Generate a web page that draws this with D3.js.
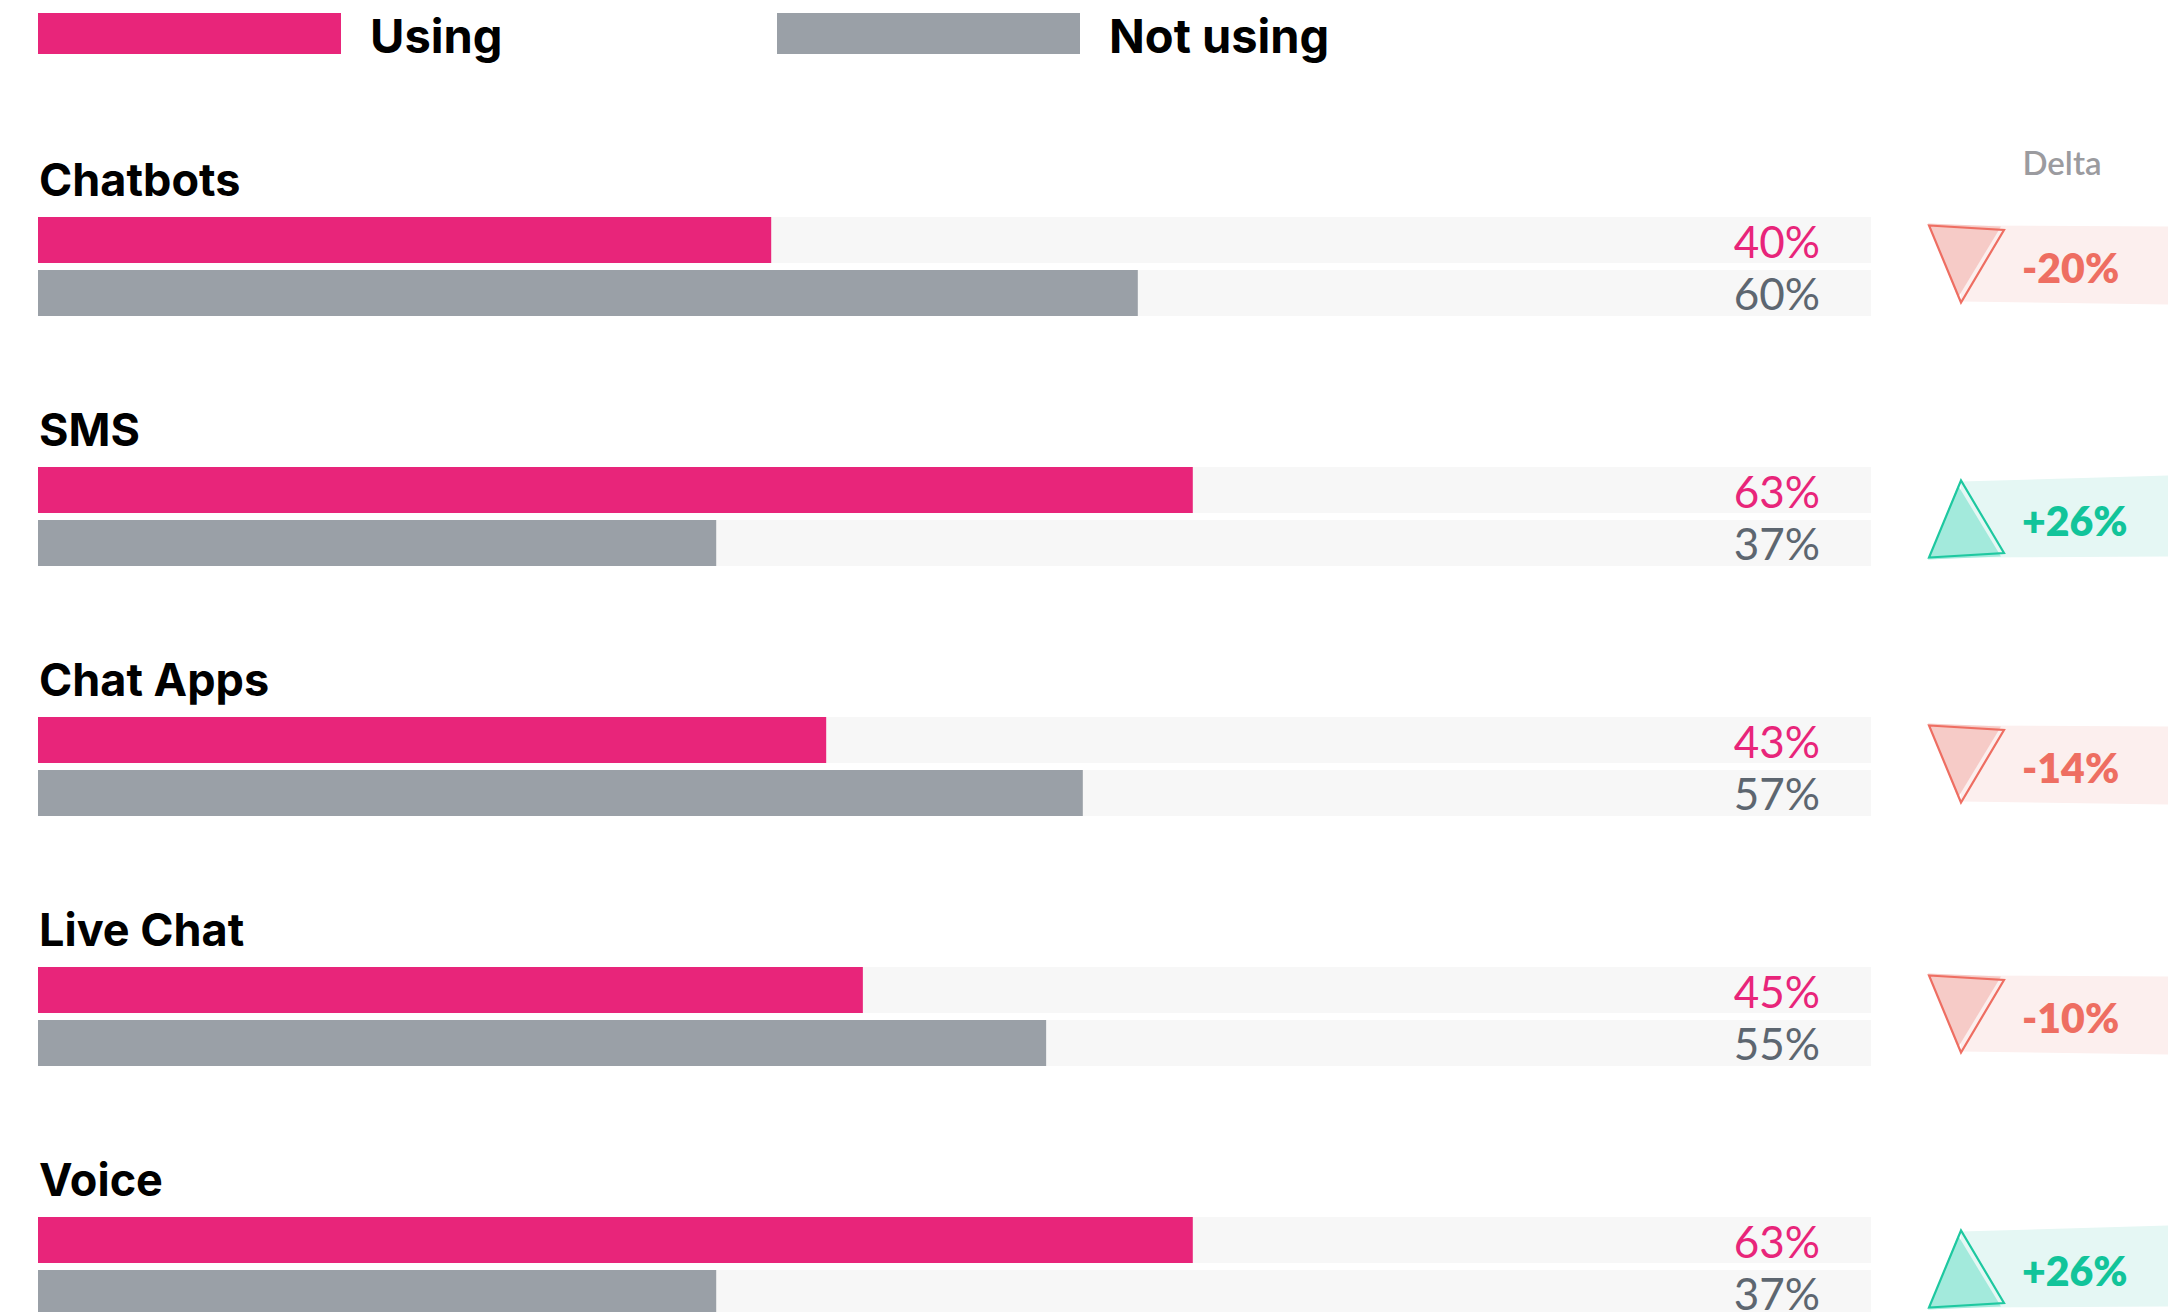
<!DOCTYPE html>
<html>
<head>
<meta charset="utf-8">
<script src="https://cdn.jsdelivr.net/npm/d3@7"></script>
<style>
    body { margin: 0; background: #fff; }
    text { font-family: "Lato", "Noto Sans", sans-serif; }
    .bold-label { font-family: "Inter", "Lato", sans-serif; }
</style>
</head>
<body>
<div id="chart"></div>
<script>
// chart data
const categories = ["Chatbots", "SMS", "Chat Apps", "Live Chat", "Voice"];
const usingValues = [40, 63, 43, 45, 63];
const notUsingValues = [60, 37, 57, 55, 37];
const deltaValues = [-20, 26, -14, -10, 26];
const legendLabels = ["Using", "Not using"];

const colors = {
    using: "#e8257a",
    notUsing: "#9aa0a7",
    track: "#f7f7f7",
    usingText: "#e8257a",
    notUsingText: "#5d6670",
    down: {band: "#fcefee", fill: "#f6cbc7", stroke: "#ee6e62", text: "#ee6e62"},
    up: {band: "#e5f7f4", fill: "#a3eadc", stroke: "#1ec8a0", text: "#12c49a"}
};

const width = 2168, height = 1312;

const svg = d3.select("#chart").append("svg")
    .attr("width", width)
    .attr("height", height);

let x = d3.scaleLinear()
    .domain([0, 100])
    .range([38, 1871]);

// top of the "using" bar for each row
let y = d3.scalePoint()
    .domain(categories)
    .range([217, 1217]);

const barH = 46, barGap = 7;

// legend
let legend = svg.append("g").attr("class", "legend");
let legendX = [38, 777];
legendLabels.forEach((lab, i) => {
    legend.append("rect")
        .attr("x", legendX[i])
        .attr("y", 13)
        .attr("width", 303)
        .attr("height", 41)
        .attr("fill", i === 0 ? colors.using : colors.notUsing);
    legend.append("text")
        .attr("class", "bold-label")
        .attr("x", legendX[i] + 332)
        .attr("y", 53)
        .attr("font-size", 47)
        .attr("font-weight", 700)
        .attr("fill", "#000")
        .text(lab);
});

// delta header
svg.append("text")
    .attr("x", 2062)
    .attr("y", 175)
    .attr("text-anchor", "middle")
    .attr("font-size", 33)
    .attr("font-weight", 600)
    .attr("fill", "#9b9b9f")
    .text("Delta");

let rows = svg.selectAll(".row")
    .data(categories.map((c, i) => ({
        name: c, using: usingValues[i], notUsing: notUsingValues[i], delta: deltaValues[i]
    })))
    .enter().append("g")
    .attr("class", "row")
    .attr("transform", d => `translate(0, ${y(d.name)})`);

rows.append("text")
    .attr("class", "bold-label")
    .attr("x", 39)
    .attr("y", -21)
    .attr("font-size", 45)
    .attr("font-weight", 700)
    .attr("fill", "#000")
    .text(d => d.name);

// tracks
rows.selectAll(".track")
    .data([0, 1])
    .enter().append("rect")
    .attr("class", "track")
    .attr("x", x(0))
    .attr("y", k => k * (barH + barGap))
    .attr("width", x(100) - x(0))
    .attr("height", barH)
    .attr("fill", colors.track);

rows.append("rect")
    .attr("x", x(0))
    .attr("y", 0)
    .attr("width", d => x(d.using) - x(0))
    .attr("height", barH)
    .attr("fill", colors.using);

rows.append("rect")
    .attr("x", x(0))
    .attr("y", barH + barGap)
    .attr("width", d => x(d.notUsing) - x(0))
    .attr("height", barH)
    .attr("fill", colors.notUsing);

rows.append("text")
    .attr("x", 1820)
    .attr("y", 41)
    .attr("text-anchor", "end")
    .attr("font-size", 44)
    .attr("fill", colors.usingText)
    .text(d => d.using + "%");

rows.append("text")
    .attr("x", 1820)
    .attr("y", barH + barGap + 40)
    .attr("text-anchor", "end")
    .attr("font-size", 44)
    .attr("fill", colors.notUsingText)
    .text(d => d.notUsing + "%");

// delta markers, centred on the row
let cy = (2 * barH + barGap) / 2;
let delta = rows.append("g")
    .attr("transform", `translate(0, ${cy})`);

// flip y for "up" triangles
let sgn = d => d.delta < 0 ? 1 : -1;
let pal = d => d.delta < 0 ? colors.down : colors.up;

delta.append("path")
    .attr("d", d => {
        let s = sgn(d);
        return `M1961,${-37 * s + (s > 0 ? -4 : 4)} L2168,${-40 * s} L2168,${37 * s + (s > 0 ? 1 : -4)} L1961,${35 * s} Z`;
    })
    .attr("fill", d => pal(d).band);

delta.append("path")
    .attr("d", d => {
        let s = sgn(d);
        return `M1928,${-43 * s} L2001,${-40 * s} L1958,${31 * s} Z`;
    })
    .attr("fill", d => pal(d).fill);

delta.append("path")
    .attr("d", d => {
        let s = sgn(d);
        return `M1929,${-41 * s} L2004,${-36.5 * s} L1961,${36 * s} Z`;
    })
    .attr("fill", "none")
    .attr("stroke", d => pal(d).stroke)
    .attr("stroke-width", 2.2)
    .attr("stroke-linejoin", "miter");

delta.append("text")
    .attr("x", 2022)
    .attr("y", d => d.delta < 0 ? 16 : 19)
    .attr("font-size", 41)
    .attr("font-weight", 800)
    .attr("fill", d => pal(d).text)
    .text(d => (d.delta > 0 ? "+" : "") + d.delta + "%");
</script>
</body>
</html>
